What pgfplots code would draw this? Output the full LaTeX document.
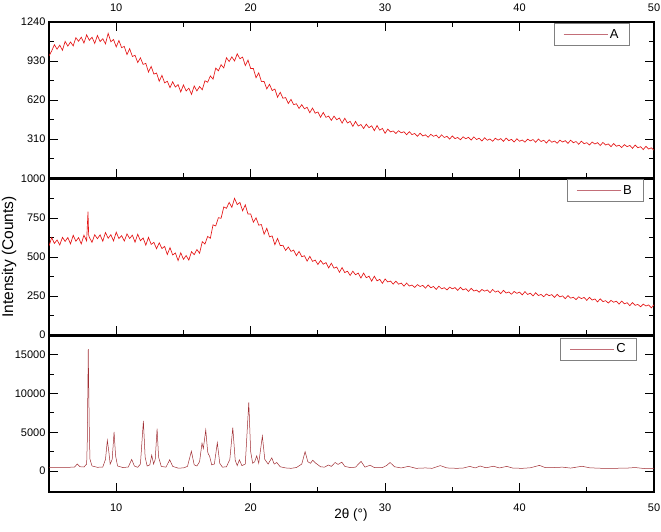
\documentclass[border=0pt]{standalone}
\usepackage{fontspec}
\setmainfont{Liberation Sans}
\usepackage{pgfplots}
\pgfplotsset{compat=1.18}
\definecolor{curve}{RGB}{228,20,20}
\definecolor{curveC}{RGB}{160,45,50}
\definecolor{legline}{RGB}{195,110,120}

\pgfplotsset{
  xrdpanel/.style={
    scale only axis, width=605pt, height=156pt,
    xmin=5, xmax=50, xtick={10,20,30,40,50},
    minor x tick num=1, minor y tick num=1,
    tick align=inside, major tick length=9pt, minor tick length=5pt,
    axis line style={line width=1.1pt},
    every tick/.append style={black, line width=0.9pt},
    ytick pos=both, yticklabel pos=left,
    tick label style={font=\fontsize{11}{13}\selectfont},
    /pgf/number format/assume math mode=true,
    /pgf/number format/1000 sep={},
    scaled y ticks=false,
    legend style={draw=gray, line width=0.6pt, font=\fontsize{13}{15}\selectfont,
      inner xsep=9pt, inner ysep=4pt, anchor=north east},
    legend image code/.code={\path (0pt,0pt) -- (44pt,0pt); \draw[##1] (8pt,0pt) -- (44pt,0pt);},
  },
}

\begin{document}
\begin{tikzpicture}

% ---- panel A ----
\begin{axis}[xrdpanel, at={(49pt,354pt)}, anchor=south west,
  xtick pos=both, xticklabel pos=upper, xticklabel style={yshift=7pt},
  ymin=0, ymax=1240, ytick={0,310,620,930,1240}, yticklabels={,310,620,930,1240},
  legend style={at={(0.96,0.994)}}]
\addplot[curve, line width=0.65pt, forget plot] coordinates {
(5.0,970) (5.2,1010) (5.4,1059) (5.6,1024) (5.8,1056) (6.0,1015) (6.2,1086) (6.4,1048) (6.6,1081) (6.8,1050)
(7.0,1115) (7.2,1087) (7.4,1119) (7.6,1073) (7.8,1138) (8.0,1095) (8.2,1119) (8.4,1070) (8.6,1133) (8.8,1085)
(9.0,1107) (9.2,1066) (9.4,1150) (9.6,1083) (9.8,1101) (10.0,1042) (10.2,1093) (10.4,1036) (10.6,1046) (10.8,981)
(11.0,1028) (11.2,966) (11.4,975) (11.6,918) (11.8,955) (12.0,903) (12.2,911) (12.4,842) (12.6,887) (12.8,826)
(13.0,834) (13.2,769) (13.4,816) (13.6,756) (13.8,769) (14.0,718) (14.2,765) (14.4,723) (14.6,742) (14.8,684)
(15.0,740) (15.2,692) (15.4,714) (15.6,665) (15.8,732) (16.0,692) (16.2,727) (16.4,701) (16.6,773) (16.8,761)
(17.0,811) (17.2,786) (17.4,873) (17.6,852) (17.8,900) (18.0,875) (18.2,956) (18.4,926) (18.6,963) (18.8,930)
(19.0,987) (19.2,948) (19.4,961) (19.6,894) (19.8,937) (20.0,870) (20.2,870) (20.4,797) (20.6,836) (20.8,766)
(21.0,767) (21.2,708) (21.4,745) (21.6,695) (21.8,707) (22.0,642) (22.2,681) (22.4,634) (22.6,639) (22.8,592)
(23.0,625) (23.2,583) (23.4,590) (23.6,553) (23.8,583) (24.0,550) (24.2,562) (24.4,519) (24.6,556) (24.8,515)
(25.0,525) (25.2,483) (25.4,521) (25.6,482) (25.8,492) (26.0,458) (26.2,492) (26.4,463) (26.6,477) (26.8,436)
(27.0,475) (27.2,437) (27.4,450) (27.6,410) (27.8,450) (28.0,413) (28.2,425) (28.4,393) (28.6,428) (28.8,400)
(29.0,415) (29.2,376) (29.4,417) (29.6,380) (29.8,394) (30.0,355) (30.2,389) (30.4,366) (30.6,374) (30.8,354)
(31.0,376) (31.2,359) (31.4,368) (31.6,344) (31.8,368) (32.0,345) (32.2,354) (32.4,331) (32.6,356) (32.8,334)
(33.0,343) (33.2,324) (33.4,347) (33.6,331) (33.8,341) (34.0,318) (34.2,343) (34.4,322) (34.6,331) (34.8,309)
(35.0,334) (35.2,313) (35.4,322) (35.6,304) (35.8,327) (36.0,312) (36.2,323) (36.4,301) (36.6,327) (36.8,306)
(37.0,316) (37.2,294) (37.4,320) (37.6,300) (37.8,310) (38.0,292) (38.2,316) (38.4,301) (38.6,313) (38.8,291)
(39.0,317) (39.2,297) (39.4,307) (39.6,286) (39.8,312) (40.0,292) (40.2,302) (40.4,285) (40.6,309) (40.8,295)
(41.0,306) (41.2,284) (41.4,310) (41.6,290) (41.8,300) (42.0,278) (42.2,304) (42.4,284) (42.6,294) (42.8,276)
(43.0,301) (43.2,286) (43.4,297) (43.6,275) (43.8,301) (44.0,280) (44.2,290) (44.4,268) (44.6,293) (44.8,272)
(45.0,281) (45.2,262) (45.4,286) (45.6,270) (45.8,281) (46.0,258) (46.2,283) (46.4,262) (46.6,271) (46.8,249)
(47.0,274) (47.2,252) (47.4,261) (47.6,242) (47.8,265) (48.0,249) (48.2,259) (48.4,236) (48.6,262) (48.8,240)
(49.0,249) (49.2,226) (49.4,252) (49.6,230) (49.8,240) (50.0,221)
};
\addlegendimage{legline, line width=0.6pt}
\addlegendentry{A}
\end{axis}

% ---- panel B ----
\begin{axis}[xrdpanel, at={(49pt,197pt)}, anchor=south west,
  xtick pos=bottom, xticklabels={},
  ymin=0, ymax=1000, ytick={0,250,500,750,1000},
  legend style={at={(0.982,1.0)}}]
\addplot[curve, line width=0.65pt, forget plot] coordinates {
(5.0,570) (5.2,625) (5.4,587) (5.6,609) (5.8,577) (6.0,626) (6.2,600) (6.4,625) (6.6,584) (6.8,639)
(7.0,601) (7.2,624) (7.4,584) (7.6,640) (7.8,603) (7.9,790) (7.95,640) (8.0,626) (8.2,594) (8.4,643) (8.6,617) (8.8,642)
(9.0,601) (9.2,657) (9.4,620) (9.6,643) (9.8,603) (10.0,659) (10.2,618) (10.4,637) (10.6,602) (10.8,648)
(11.0,619) (11.2,640) (11.4,595) (11.6,646) (11.8,604) (12.0,622) (12.2,576) (12.4,626) (12.6,581) (12.8,594)
(13.0,553) (13.2,591) (13.4,554) (13.6,568) (13.8,516) (14.0,560) (14.2,513) (14.4,526) (14.6,477) (14.8,527)
(15.0,485) (15.2,509) (15.4,480) (15.6,534) (15.8,515) (16.0,548) (16.2,524) (16.4,598) (16.6,583) (16.8,632)
(17.0,620) (17.2,706) (17.4,699) (17.6,752) (17.8,748) (18.0,821) (18.2,812) (18.4,850) (18.6,818) (18.8,876)
(19.0,836) (19.2,850) (19.4,796) (19.6,834) (19.8,775) (20.0,776) (20.2,723) (20.4,751) (20.6,704) (20.8,708)
(21.0,646) (21.2,684) (21.4,629) (21.6,635) (21.8,579) (22.0,619) (22.2,573) (22.4,575) (22.6,542) (22.8,564)
(23.0,536) (23.2,544) (23.4,508) (23.6,536) (23.8,502) (24.0,508) (24.2,474) (24.4,504) (24.6,472) (24.8,480)
(25.0,452) (25.2,478) (25.4,454) (25.6,464) (25.8,430) (26.0,460) (26.2,428) (26.4,436) (26.6,402) (26.8,432)
(27.0,400) (27.2,409) (27.4,382) (27.6,409) (27.8,386) (28.0,397) (28.2,365) (28.4,397) (28.6,367) (28.8,377)
(29.0,345) (29.2,377) (29.4,347) (29.6,357) (29.8,331) (30.0,359) (30.2,340) (30.4,346) (30.6,326) (30.8,345)
(31.0,326) (31.2,333) (31.4,313) (31.6,333) (31.8,314) (32.0,320) (32.2,305) (32.4,323) (32.6,311) (32.8,318)
(33.0,300) (33.2,321) (33.4,303) (33.6,311) (33.8,292) (34.0,313) (34.2,296) (34.4,303) (34.6,289) (34.8,307)
(35.0,296) (35.2,304) (35.4,286) (35.6,306) (35.8,289) (36.0,297) (36.2,279) (36.4,299) (36.6,282) (36.8,288)
(37.0,274) (37.2,292) (37.4,281) (37.6,289) (37.8,271) (38.0,292) (38.2,275) (38.4,283) (38.6,265) (38.8,286)
(39.0,269) (39.2,276) (39.4,261) (39.6,279) (39.8,267) (40.0,275) (40.2,257) (40.4,278) (40.6,260) (40.8,268)
(41.0,250) (41.2,271) (41.4,253) (41.6,260) (41.8,245) (42.0,263) (42.2,252) (42.4,259) (42.6,241) (42.8,261)
(43.0,244) (43.2,251) (43.4,233) (43.6,253) (43.8,236) (44.0,242) (44.2,227) (44.4,245) (44.6,233) (44.8,241)
(45.0,222) (45.2,242) (45.4,224) (45.6,231) (45.8,212) (46.0,232) (46.2,214) (46.4,220) (46.6,205) (46.8,222)
(47.0,210) (47.2,217) (47.4,198) (47.6,218) (47.8,200) (48.0,207) (48.2,188) (48.4,208) (48.6,190) (48.8,196)
(49.0,181) (49.2,198) (49.4,186) (49.6,193) (49.8,174) (50.0,194)
};
\addlegendimage{legline, line width=0.6pt}
\addlegendentry{B}
\end{axis}

% ---- panel C ----
\begin{axis}[xrdpanel, at={(49pt,40pt)}, anchor=south west,
  xtick pos=bottom, xticklabel style={yshift=-8pt},
  ymin=-2700, ymax=17400, ytick={0,5000,10000,15000},
  legend style={at={(0.972,0.99)}}]
\addplot[curveC, line width=0.5pt, forget plot] coordinates {
(5,480) (5.5,470) (6,470) (6.5,480) (6.9,520) (7.1,900) (7.3,560) (7.6,520) (7.8,900) (7.85,4000)
(7.92,15700) (8.0,4800) (8.05,1500) (8.2,650) (8.6,480) (9.0,520) (9.2,1500) (9.34,3950) (9.45,2500) (9.55,900)
(9.7,1500) (9.84,5050) (9.95,2000) (10.1,650) (10.5,450) (10.9,520) (11.15,1500) (11.35,650) (11.6,480) (11.8,900)
(12.02,6450) (12.15,1800) (12.3,650) (12.5,800) (12.64,2050) (12.78,900) (12.9,1500) (13.04,5450) (13.15,1800) (13.35,600)
(13.7,500) (13.98,1450) (14.2,600) (14.6,380) (15.0,400) (15.3,600) (15.59,2550) (15.8,800) (16.0,650) (16.2,1200)
(16.38,3600) (16.48,2900) (16.66,5300) (16.8,2500) (16.85,2200) (16.95,1900) (17.1,800) (17.3,900) (17.52,3650) (17.7,1000)
(17.9,500) (18.2,550) (18.45,1500) (18.67,5600) (18.85,1400) (19.0,700) (19.16,1450) (19.35,700) (19.6,900) (19.86,8850)
(20.0,2500) (20.15,1000) (20.3,1200) (20.45,1950) (20.6,1000) (20.87,4500) (21.05,1500) (21.3,900) (21.57,1700) (21.75,900)
(21.94,1100) (22.2,550) (22.6,400) (23.0,350) (23.4,450) (23.8,900) (24.05,2500) (24.25,1200) (24.45,1000) (24.62,1400)
(24.85,1000) (25.2,550) (25.5,500) (25.78,780) (26.0,600) (26.28,1100) (26.5,850) (26.78,1150) (27.0,600) (27.4,450)
(27.8,500) (28.21,1250) (28.5,500) (28.88,750) (29.2,450) (29.8,450) (30.1,700) (30.37,1100) (30.7,550) (31.2,400)
(31.73,600) (32.3,350) (33.0,400) (33.5,350) (34.1,700) (34.6,400) (35.3,350) (35.8,380) (36.3,600) (36.7,400)
(37.07,650) (37.5,420) (38.06,620) (38.5,400) (39.05,600) (39.5,380) (40.2,350) (40.8,420) (41.48,730) (41.9,450)
(42.5,450) (43.2,500) (43.8,380) (44.64,620) (45.2,420) (46,360) (47,350) (48,380) (48.6,450) (49.3,320) (50,300)
};
\addlegendimage{legline, line width=0.6pt}
\addlegendentry{C}
\end{axis}

\node[rotate=90, font=\fontsize{15.5}{17}\selectfont] at (9pt,275pt) {Intensity (Counts)};
\node[font=\fontsize{13.5}{15}\selectfont] at (351pt,17pt) {2θ (°)};

\pgfresetboundingbox
\useasboundingbox (0pt,0pt) rectangle (661pt,532pt);
\end{tikzpicture}
\end{document}
